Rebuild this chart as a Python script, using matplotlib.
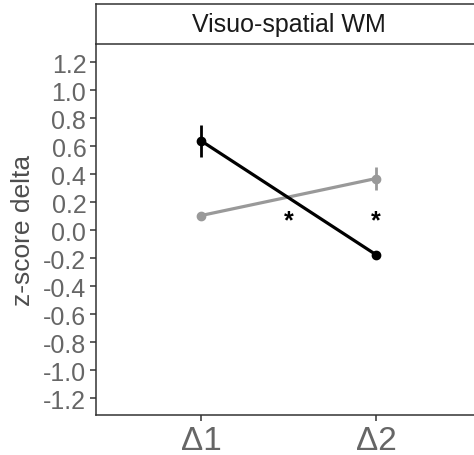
import numpy as np
import matplotlib
matplotlib.use("Agg")
import matplotlib.pyplot as plt

plt.rcParams['font.family'] = ['Liberation Sans', 'DejaVu Sans']

# data
categories = ["\u03941", "\u03942"]
black_mean = [0.64, -0.175]
black_err = [0.115, 0.02]
gray_mean = [0.105, 0.37]
gray_err = [0.015, 0.08]
star_x = [1.5, 2.0]
star_y = [0.07, 0.07]
yticks = np.round(np.arange(-1.2, 1.21, 0.2), 1)
panel_title = "Visuo-spatial WM"

W, H = 474, 456
fig = plt.figure(figsize=(W / 100, H / 100), dpi=100)

# main panel (right edge runs past the image, as in the reference)
ax = fig.add_axes([96 / W, (H - 416) / H, 385 / W, 371 / H])
x = np.arange(1, len(categories) + 1)

ax.errorbar(x, gray_mean, yerr=gray_err, color="#999999", lw=2.3,
            elinewidth=2, capsize=0, marker="o", ms=6, zorder=2)
ax.errorbar(x, black_mean, yerr=black_err, color="black", lw=2.3,
            elinewidth=2, capsize=0, marker="o", ms=6, zorder=3)
for sx, sy in zip(star_x, star_y):
    ax.text(sx, sy, "*", ha="center", va="center", fontsize=18,
            fontweight="bold", color="black")

ax.set_xlim(0.4, 2.6)
ax.set_ylim(-1.3215, 1.332)
ax.set_xticks(x)
ax.set_xticklabels(categories, fontsize=24, color="#666666")
ax.set_yticks(yticks)
ax.set_yticklabels(["%.1f" % v if v != 0 else "0.0" for v in yticks],
                   fontsize=18, color="#666666")
ax.set_ylabel("z-score delta", fontsize=19, color="#4d4d4d", labelpad=6)
for s in ["top", "right"]:
    ax.spines[s].set_visible(False)
for s in ["left", "bottom"]:
    ax.spines[s].set_color("#333333")
    ax.spines[s].set_linewidth(1.1)
ax.tick_params(colors="#333333", length=4, width=1.1, pad=3)
ax.tick_params(axis="x", labelcolor="#666666")
ax.tick_params(axis="y", labelcolor="#666666")

# facet strip
strip = fig.add_axes([96 / W, (H - 45) / H, 385 / W, 40 / H])
strip.set_xticks([])
strip.set_yticks([])
for s in strip.spines.values():
    s.set_color("#333333")
    s.set_linewidth(1.1)
strip.text(0.5, 0.5, panel_title, transform=strip.transAxes,
           ha="center", va="center", fontsize=18, color="#1a1a1a")

fig.savefig("out.png", dpi=100)
